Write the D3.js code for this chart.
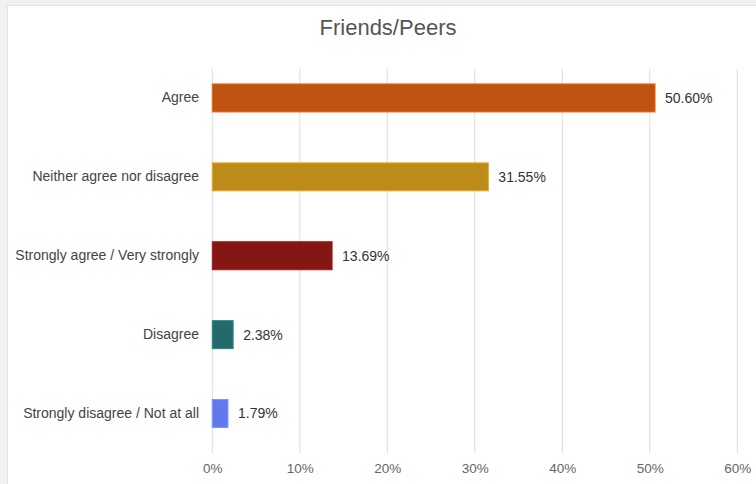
<!DOCTYPE html>
<html>
<head>
<meta charset="utf-8">
<title>Friends/Peers</title>
<style>
  body { margin: 0; background: #f1f1f1; }
  svg { display: block; font-family: "Liberation Sans", Arial, sans-serif; }
</style>
</head>
<body>
<svg width="756" height="484"></svg>
<script src="https://cdn.jsdelivr.net/npm/d3@7"></script>
<script>
  // data
  const categories = ["Agree", "Neither agree nor disagree", "Strongly agree / Very strongly", "Disagree", "Strongly disagree / Not at all"]
  const values = [50.60, 31.55, 13.69, 2.38, 1.79]
  const colors = ["#bf5312", "#bc8b19", "#841713", "#236b6a", "#6279ee"]
  const ticks = [0, 10, 20, 30, 40, 50, 60]

  const svg = d3.select("svg")

  // card background
  svg.append("rect").attr("x", 7.5).attr("y", 5.5).attr("width", 760).attr("height", 490)
    .attr("fill", "#fff").attr("stroke", "#e4e4e4")

  svg.append("text").attr("x", 388).attr("y", 35).attr("text-anchor", "middle")
    .attr("font-size", 22).attr("fill", "#555").text("Friends/Peers")

  const x = d3.scaleLinear().domain([0, 60]).range([212.3, 737.3])
  const y = d3.scaleBand().domain(categories).range([58.5, 453])
    .paddingInner(0.645).paddingOuter(0.3225)

  // gridlines
  svg.append("g").selectAll("line").data(ticks).enter().append("line")
    .attr("x1", d => x(d)).attr("x2", d => x(d))
    .attr("y1", 69).attr("y2", 453)
    .attr("stroke", "#dcdcdc").attr("stroke-width", 1)

  // x axis labels
  const xAxis = svg.append("g").attr("transform", "translate(0,453)")
    .call(d3.axisBottom(x).tickValues(ticks).tickFormat(d => d + "%").tickSize(0).tickPadding(10))
  xAxis.select(".domain").remove()
  xAxis.selectAll("text").attr("font-size", 13.5).attr("fill", "#666")
    .attr("font-family", "Liberation Sans, Arial, sans-serif")

  // category labels
  const yAxis = svg.append("g").attr("transform", "translate(212,0)")
    .call(d3.axisLeft(y).tickSize(0).tickPadding(13))
  yAxis.select(".domain").remove()
  yAxis.selectAll("text").attr("font-size", 14).attr("fill", "#444")
    .attr("font-family", "Liberation Sans, Arial, sans-serif")

  // bars
  svg.append("g").selectAll("rect").data(values).enter().append("rect")
    .attr("x", x(0))
    .attr("y", (d, i) => y(categories[i]))
    .attr("width", d => x(d) - x(0))
    .attr("height", y.bandwidth())
    .attr("fill", (d, i) => colors[i])
    .attr("stroke", (d, i) => d3.color(colors[i]).brighter(0.6))
    .attr("stroke-width", 1)

  // value labels
  svg.append("g").selectAll("text").data(values).enter().append("text")
    .attr("x", d => x(d) + 10)
    .attr("y", (d, i) => y(categories[i]) + y.bandwidth() / 2)
    .attr("dy", "0.35em")
    .attr("font-size", 14).attr("fill", "#333")
    .text(d => d.toFixed(2) + "%")
</script>
</body>
</html>
